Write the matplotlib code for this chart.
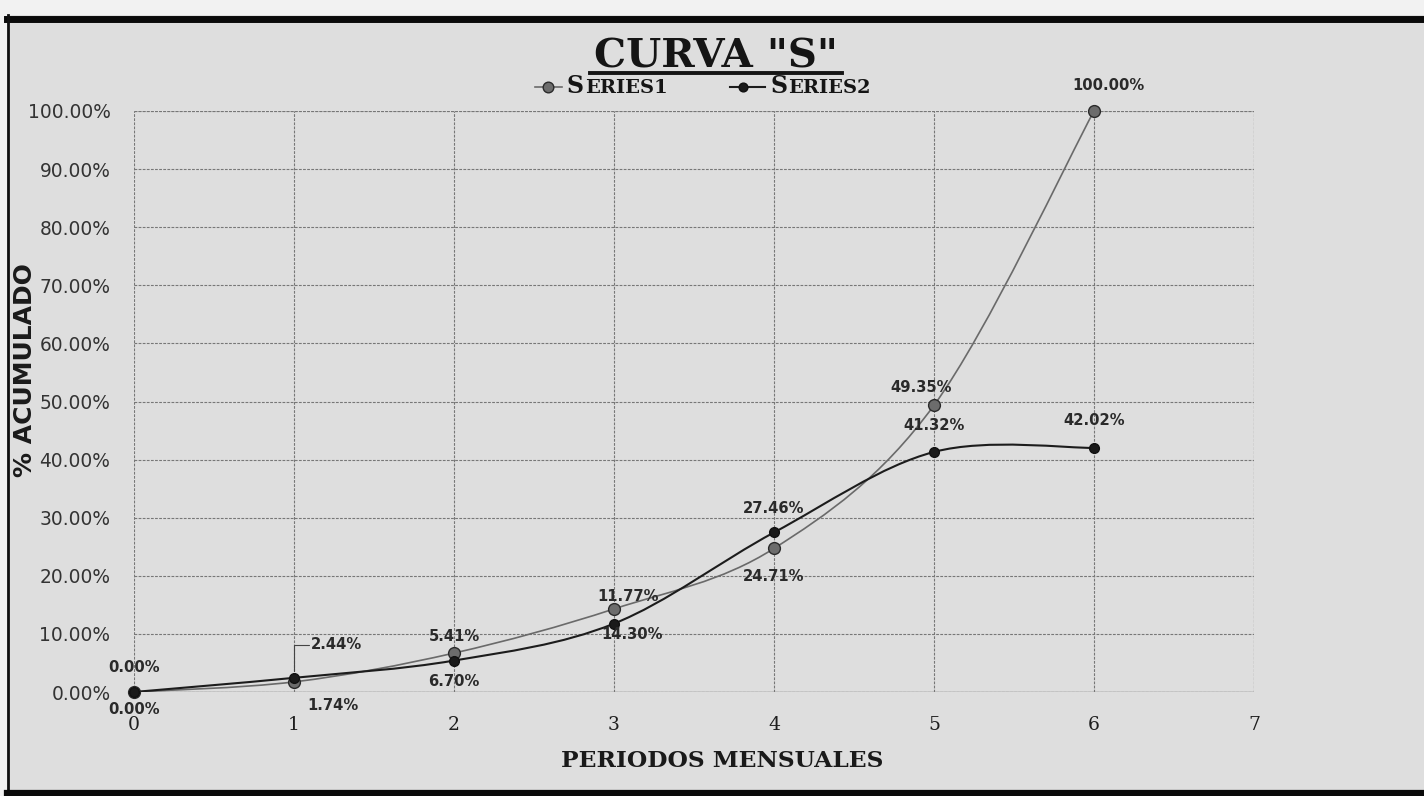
import numpy as np
import matplotlib
matplotlib.use("Agg")
import matplotlib.pyplot as plt
from matplotlib.path import Path
from matplotlib.patches import PathPatch, Rectangle
from matplotlib.lines import Line2D

# ---------------- data ----------------
periods = [0, 1, 2, 3, 4, 5, 6]
series_names = ["Series1", "Series2"]
series1 = [0.00, 1.74, 6.70, 14.30, 24.71, 49.35, 100.00]
series2 = [0.00, 2.44, 5.41, 11.77, 27.46, 41.32, 42.02]
y_ticks = [0, 10, 20, 30, 40, 50, 60, 70, 80, 90, 100]
x_ticks = [0, 1, 2, 3, 4, 5, 6, 7]
title = 'CURVA "S"'
x_title = "PERIODOS MENSUALES"
y_title = "% ACUMULADO"

# label offsets (pixels) for each point
off1 = [(0, -18), (39, -24), (0, -28), (18, -26), (0, -28), (-13, 18), (14, 26)]
off2 = [(0, 24), (43, 33), (0, 24), (14, 27), (0, 24), (0, 26), (0, 27)]

W, H = 1424, 796
fig = plt.figure(figsize=(W / 100, H / 100), dpi=100)
fig.patch.set_facecolor("#f2f2f2")
BG = "#dedede"

def fx(px):
    return px / W

def fy(py):
    return (H - py) / H

# scanned page background + frame
fig.patches.append(Rectangle((fx(7), 0), 1 - fx(7), fy(15), transform=fig.transFigure,
                             facecolor=BG, edgecolor="none", zorder=-10))
fig.lines.append(Line2D([fx(7), 1], [fy(18.5), fy(18.5)], transform=fig.transFigure,
                        color="#0a0a0a", lw=5.0))
fig.lines.append(Line2D([fx(7.5), fx(7.5)], [0, fy(15)], transform=fig.transFigure,
                        color="#111111", lw=2.0))
fig.lines.append(Line2D([fx(7), 1], [fy(793), fy(793)], transform=fig.transFigure,
                        color="#0a0a0a", lw=4.5))

ax = fig.add_axes([fx(134), fy(692), fx(1254) - fx(134), fy(111) - fy(692)])
ax.set_facecolor("none")
ax.set_xlim(0, 7)
ax.set_ylim(0, 100)
ax.set_xticks(x_ticks)
ax.set_yticks(y_ticks)
ax.set_yticklabels([f"{v:.2f}%" for v in y_ticks])
ax.set_xticklabels([str(v) for v in x_ticks])
for s in ax.spines.values():
    s.set_visible(False)
ax.tick_params(axis="both", length=0)
ax.tick_params(axis="y", pad=17, labelsize=13.4, labelcolor="#333333")
ax.tick_params(axis="x", pad=17, labelsize=13.5, labelcolor="#1e1e1e")
for t in ax.get_yticklabels():
    t.set_fontfamily("DejaVu Sans")
for t in ax.get_xticklabels():
    t.set_fontfamily("DejaVu Serif")
ax.grid(True, color="#777777", lw=0.8, linestyle=(0, (2.5, 1.2)))
ax.set_axisbelow(True)
ax.axvline(7, color="#777777", lw=0.8, linestyle=(0, (2.5, 1.2)))
ax.axhline(100, color="#777777", lw=0.8, linestyle=(0, (2.5, 1.2)))
ax.axhline(0, color="#777777", lw=1.0)


def smooth_path(xs, ys):
    pts = np.column_stack([xs, ys]).astype(float)
    n = len(pts)
    verts = [pts[0]]
    codes = [Path.MOVETO]
    for i in range(n - 1):
        p0 = pts[i - 1] if i > 0 else pts[i]
        p1 = pts[i]
        p2 = pts[i + 1]
        p3 = pts[i + 2] if i + 2 < n else pts[i + 1]
        c1 = p1 + (p2 - p0) / 6.0
        c2 = p2 - (p3 - p1) / 6.0
        verts += [c1, c2, p2]
        codes += [Path.CURVE4] * 3
    return Path(verts, codes)


styles = [
    dict(line="#6a6a6a", lw=1.2, mface="#6c6c6c", medge="#2a2a2a", ms=8.5),
    dict(line="#1c1c1c", lw=1.5, mface="#1a1a1a", medge="#111111", ms=7.0),
]
data = [series1, series2]
offs = [off1, off2]

for k in range(2):
    st = styles[k]
    ax.add_patch(PathPatch(smooth_path(periods, data[k]), fill=False,
                           edgecolor=st["line"], lw=st["lw"], zorder=3))
for k in range(2):
    st = styles[k]
    ax.plot(periods, data[k], linestyle="none", marker="o", ms=st["ms"],
            mfc=st["mface"], mec=st["medge"], mew=1.0, zorder=4, clip_on=False)
    for i, (x, v) in enumerate(zip(periods, data[k])):
        ox, oy = offs[k][i]
        kw = {}
        if k == 1 and i == 1:
            kw = dict(arrowprops=dict(arrowstyle="-", color="#444444", lw=0.8,
                                      connectionstyle="angle,angleA=0,angleB=90,rad=0",
                                      shrinkA=0, shrinkB=5),)
        ax.annotate(f"{v:.2f}%", (x, v), xytext=(ox, oy), textcoords="offset pixels",
                    ha="center", va="center", fontsize=10.6, fontweight="bold",
                    color="#2a2a2a", fontfamily="DejaVu Sans", zorder=5,
                    annotation_clip=False, **kw)

# axis titles
fig.text(fx(722), fy(761), x_title, ha="center", va="center", fontsize=16.8,
         fontweight="bold", fontfamily="DejaVu Serif", color="#1a1a1a")
fig.text(fx(25), fy(370), y_title, ha="center", va="center", rotation=90,
         fontsize=18, fontweight="bold", fontfamily="DejaVu Sans", color="#1a1a1a")

# title with underline
fig.text(fx(716), fy(67), title, ha="center", va="baseline", fontsize=29,
         fontweight="bold", fontfamily="DejaVu Serif", color="#151515")
fig.lines.append(Line2D([fx(590), fx(842)], [fy(72.5), fy(72.5)], transform=fig.transFigure,
                        color="#151515", lw=2.8))

# legend (small caps style)
fig.canvas.draw()
r = fig.canvas.get_renderer()
leg_pos = [(535, 562, 548, 567), (730, 765, 743, 770)]
for k in range(2):
    st = styles[k]
    x0, x1, xm, xt = leg_pos[k]
    fig.lines.append(Line2D([fx(x0), fx(x1)], [fy(87), fy(87)], transform=fig.transFigure,
                            color=st["line"], lw=st["lw"]))
    fig.lines.append(Line2D([fx(xm)], [fy(87)], transform=fig.transFigure, marker="o",
                            ms=st["ms"] * 0.9, mfc=st["mface"], mec=st["medge"], mew=1.0))
    name = series_names[k]
    t1 = fig.text(fx(xt), fy(93), name[0].upper(), ha="left", va="baseline", fontsize=17,
                  fontweight="bold", fontfamily="DejaVu Serif", color="#151515")
    bb = t1.get_window_extent(r)
    fig.text(bb.x1 / W + fx(1), fy(93), name[1:].upper(), ha="left", va="baseline",
             fontsize=14, fontweight="bold", fontfamily="DejaVu Serif", color="#151515")

fig.savefig("out.png", dpi=100, facecolor=fig.get_facecolor())
